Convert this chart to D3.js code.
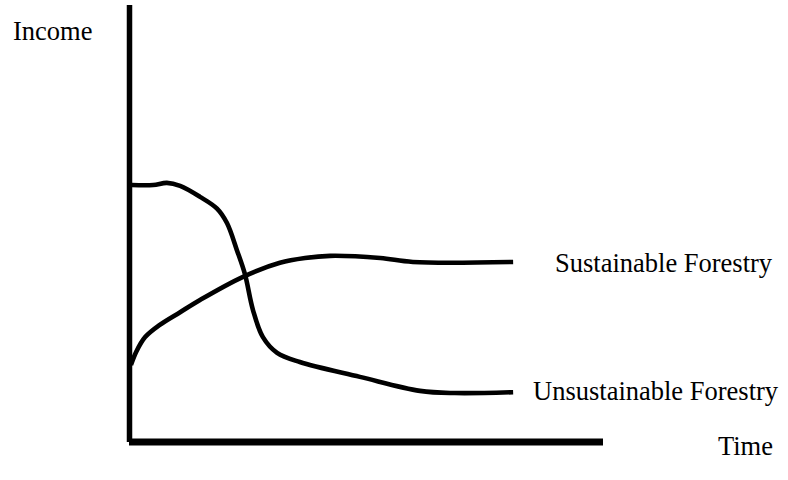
<!DOCTYPE html>
<html>
<head>
<meta charset="utf-8">
<script src="https://cdn.jsdelivr.net/npm/d3@7"></script>
<style>
  html, body { margin: 0; padding: 0; background: #fff; }
  svg { display: block; }
  text { font-family: "Liberation Serif", "Times New Roman", serif; fill: #000; }
</style>
</head>
<body>
<div id="chart"></div>
<script>
// Data (time units 0-100, income units 0-100)
const sustainableTime   = [0.2, 1.3, 3.2, 6.3, 10.6, 14.8, 23.9, 31.7, 37.0, 42.3, 52.9, 59.8, 81.0];
const sustainableIncome = [17.6, 20.6, 24.0, 26.8, 29.7, 32.5, 37.8, 41.0, 42.1, 42.6, 42.1, 41.2, 41.2];
const unsustainableTime   = [0.4, 4.9, 7.8, 10.6, 14.8, 18.4, 20.5, 22.6, 24.3, 26.0, 28.1, 31.1, 35.9, 48.6, 61.3, 68.7, 81.0];
const unsustainableIncome = [58.8, 58.8, 59.3, 58.6, 56.1, 53.4, 50.1, 43.9, 38.4, 30.2, 24.0, 20.4, 18.3, 14.9, 11.7, 11.2, 11.4];
const seriesLabels = ["Sustainable Forestry", "Unsustainable Forestry"];
const axisLabels = { x: "Time", y: "Income" };

const W = 788, H = 480;
const svg = d3.select("#chart").append("svg").attr("width", W).attr("height", H);

const x = d3.scaleLinear().domain([0, 100]).range([130, 603]);
const y = d3.scaleLinear().domain([0, 100]).range([442, 5]);

const line = d3.line()
  .x(d => x(d[0])).y(d => y(d[1]))
  .curve(d3.curveCatmullRom.alpha(0.5));

const sus = sustainableTime.map((t, i) => [t, sustainableIncome[i]]);
const uns = unsustainableTime.map((t, i) => [t, unsustainableIncome[i]]);

[sus, uns].forEach(d => {
  svg.append("path").datum(d)
    .attr("d", line)
    .attr("fill", "none")
    .attr("stroke", "#000")
    .attr("stroke-width", 4.6)
    .attr("stroke-linejoin", "round");
});

// axes
svg.append("line")
  .attr("x1", x(0) - 0.5).attr("x2", x(0) - 0.5)
  .attr("y1", y(100)).attr("y2", y(0))
  .attr("stroke", "#000").attr("stroke-width", 5.5);
svg.append("line")
  .attr("x1", x(0) - 1).attr("x2", x(100))
  .attr("y1", y(0)).attr("y2", y(0))
  .attr("stroke", "#000").attr("stroke-width", 7);

// labels
const fs = 26.5;
svg.append("text").attr("x", 13).attr("y", 40).attr("font-size", fs).text(axisLabels.y);
svg.append("text").attr("x", 718).attr("y", 455).attr("font-size", fs).text(axisLabels.x);
svg.append("text").attr("x", 555).attr("y", 272).attr("font-size", fs).text(seriesLabels[0]);
svg.append("text").attr("x", 533).attr("y", 400).attr("font-size", fs).text(seriesLabels[1]);
</script>
</body>
</html>
